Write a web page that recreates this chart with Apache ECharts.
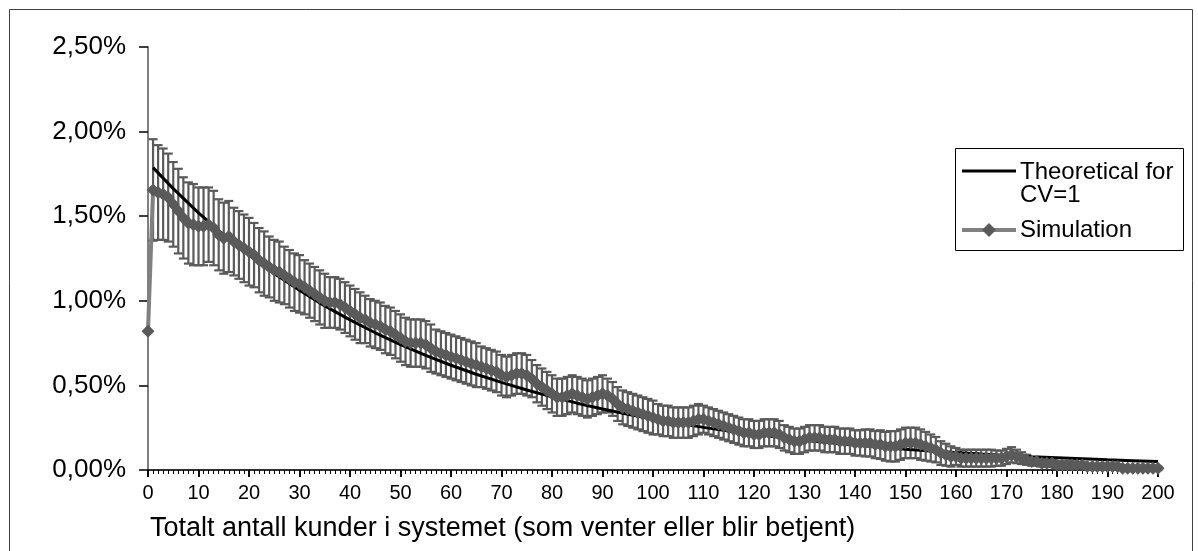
<!DOCTYPE html>
<html>
<head>
<meta charset="utf-8">
<script src="https://cdn.jsdelivr.net/npm/echarts@6/dist/echarts.min.js"></script>
<style>
html,body{margin:0;padding:0;background:#fff;}
#chart{width:1198px;height:551px;}
</style>
</head>
<body>
<div id="chart"></div>
<script>
// ---- data (values in percent) ----
const xTickLabels = [0,10,20,30,40,50,60,70,80,90,100,110,120,130,140,150,160,170,180,190,200];
const yTickLabels = ['0,00%','0,50%','1,00%','1,50%','2,00%','2,50%'];

const theoX = [1,5,10,15,20,25,30,35,40,45,50,55,60,65,70,75,80,85,90,95,100,
  105,110,115,120,125,130,135,140,145,150,155,160,165,170,175,180,185,190,195,200];
const theoY = [1.787,1.663,1.520,1.390,1.270,1.161,1.062,0.970,0.887,0.811,0.741,
  0.678,0.619,0.566,0.518,0.473,0.432,0.395,0.361,0.330,0.302,
  0.276,0.252,0.231,0.211,0.193,0.176,0.161,0.147,0.135,0.123,
  0.112,0.103,0.094,0.086,0.078,0.072,0.066,0.060,0.055,0.050];

// simulation mean, index = number of customers (0..200)
const simY = [0.82,
  1.655,1.64,1.63,1.61,1.57,1.53,1.49,1.46,1.45,1.44,
  1.44,1.45,1.43,1.39,1.37,1.38,1.35,1.33,1.31,1.29,
  1.27,1.24,1.22,1.20,1.18,1.17,1.15,1.13,1.11,1.10,
  1.08,1.06,1.04,1.02,1.00,0.99,0.99,0.98,0.96,0.94,
  0.92,0.90,0.89,0.87,0.86,0.85,0.83,0.82,0.80,0.78,
  0.76,0.75,0.75,0.75,0.74,0.72,0.70,0.69,0.68,0.67,
  0.66,0.65,0.64,0.63,0.62,0.61,0.60,0.59,0.58,0.56,
  0.55,0.56,0.57,0.57,0.56,0.54,0.51,0.49,0.47,0.45,
  0.43,0.43,0.44,0.45,0.44,0.43,0.42,0.43,0.44,0.45,
  0.44,0.42,0.39,0.37,0.36,0.35,0.34,0.33,0.32,0.31,
  0.30,0.29,0.29,0.28,0.28,0.28,0.28,0.29,0.30,0.30,
  0.29,0.28,0.27,0.26,0.25,0.24,0.23,0.22,0.22,0.21,
  0.21,0.22,0.22,0.22,0.21,0.19,0.18,0.17,0.17,0.18,
  0.19,0.19,0.19,0.18,0.18,0.18,0.17,0.17,0.17,0.16,
  0.16,0.16,0.16,0.15,0.15,0.14,0.14,0.14,0.15,0.16,
  0.16,0.16,0.15,0.14,0.13,0.12,0.10,0.09,0.08,0.08,
  0.07,0.07,0.07,0.07,0.07,0.07,0.07,0.07,0.07,0.08,
  0.09,0.08,0.07,0.06,0.05,0.05,0.04,0.04,0.04,0.03,
  0.03,0.03,0.03,0.03,0.03,0.02,0.02,0.02,0.02,0.02,
  0.02,0.02,0.01,0.01,0.01,0.01,0.01,0.01,0.01,0.01];

// simulation error (+/-)
const simErr = [0,
  0.30,0.28,0.27,0.26,0.25,0.25,0.24,0.24,0.24,0.23,
  0.23,0.22,0.22,0.21,0.21,0.21,0.20,0.20,0.20,0.20,
  0.19,0.19,0.19,0.18,0.18,0.18,0.17,0.17,0.17,0.17,
  0.16,0.16,0.16,0.16,0.16,0.15,0.15,0.15,0.15,0.15,
  0.15,0.15,0.14,0.14,0.14,0.14,0.14,0.14,0.14,0.14,
  0.14,0.14,0.14,0.14,0.14,0.14,0.13,0.13,0.13,0.13,
  0.13,0.13,0.13,0.13,0.13,0.12,0.12,0.12,0.12,0.12,
  0.12,0.12,0.12,0.12,0.12,0.11,0.11,0.11,0.11,0.11,
  0.11,0.11,0.11,0.11,0.11,0.11,0.11,0.11,0.11,0.11,
  0.10,0.10,0.10,0.10,0.10,0.10,0.10,0.10,0.10,0.10,
  0.09,0.09,0.09,0.09,0.09,0.09,0.09,0.09,0.09,0.08,
  0.08,0.08,0.08,0.08,0.08,0.08,0.08,0.08,0.08,0.08,
  0.08,0.08,0.08,0.08,0.08,0.075,0.075,0.075,0.075,0.075,
  0.075,0.075,0.075,0.075,0.075,0.075,0.075,0.075,0.075,0.075,
  0.075,0.08,0.08,0.08,0.085,0.085,0.09,0.09,0.09,0.09,
  0.09,0.09,0.09,0.085,0.08,0.075,0.07,0.065,0.06,0.05,
  0.05,0.05,0.05,0.05,0.05,0.05,0.05,0.045,0.045,0.045,
  0.045,0.04,0.035,0.03,0.025,0.02,0.02,0.02,0.02,0.02,
  0.02,0.02,0.02,0.015,0.015,0.015,0.015,0.01,0.01,0.01,
  0.01,0.01,0.01,0.01,0.01,0.01,0.01,0.01,0.01,0.01];

const xTitle = 'Totalt antall kunder i systemet (som venter eller blir betjent)';
const seriesNames = ['Theoretical for CV=1', 'Simulation'];

// ---- build ----
const FONT = '"Liberation Sans", Arial, Helvetica, sans-serif';
const theoData = theoX.map((x, i) => [x, theoY[i]]);
const simData = simY.map((v, i) => [i, v]);
const errData = simY.map((v, i) => [i, v - simErr[i], v + simErr[i]]);

const chart = echarts.init(document.getElementById('chart'), null, {renderer: 'canvas'});

const xBase = {type: 'value', min: 0, max: 200, gridIndex: 0, splitLine: {show: false}};
const yBase = {type: 'value', min: 0, max: 2.5, interval: 0.5, gridIndex: 0, splitLine: {show: false}};

chart.setOption({
  backgroundColor: '#ffffff',
  animation: false,
  textStyle: {fontFamily: FONT, color: '#000'},
  grid: {left: 148, top: 47, width: 1010, height: 423, containLabel: false},
  xAxis: [
    Object.assign({}, xBase, {
      interval: 10,
      axisLine: {show: true, onZero: false, lineStyle: {color: '#303030', width: 2}},
      axisTick: {show: true, length: 7, lineStyle: {color: '#000', width: 1.5}},
      axisLabel: {show: true, fontSize: 20, margin: 13, color: '#000', fontFamily: FONT,
        formatter: v => (xTickLabels.indexOf(v) >= 0 ? String(v) : '')},
      name: xTitle,
      nameLocation: 'start',
      nameGap: -2,
      nameTextStyle: {fontSize: 27, color: '#000', fontFamily: FONT, align: 'left',
        verticalAlign: 'top', padding: [45, 0, 0, 0]}
    }),
    Object.assign({}, xBase, {
      interval: 1,
      axisLine: {show: false},
      axisTick: {show: true, inside: true, length: 4, lineStyle: {color: '#000', width: 1}},
      axisLabel: {show: false}
    }),
    Object.assign({}, xBase, {
      interval: 10,
      axisLine: {show: false},
      axisTick: {show: true, inside: true, length: 7, lineStyle: {color: '#000', width: 1.5}},
      axisLabel: {show: false}
    })
  ],
  yAxis: [
    Object.assign({}, yBase, {
      axisLine: {show: true, lineStyle: {color: '#808080', width: 2}},
      axisTick: {show: true, length: 6, lineStyle: {color: '#000', width: 1.5}},
      axisLabel: {show: true, fontSize: 26, margin: 22, color: '#000', fontFamily: FONT,
        formatter: v => yTickLabels[Math.round(v / 0.5)]}
    }),
    Object.assign({}, yBase, {
      axisLine: {show: false},
      axisTick: {show: true, inside: true, length: 9, lineStyle: {color: '#000', width: 1.5}},
      axisLabel: {show: false}
    })
  ],
  series: [
    {
      name: seriesNames[1] + ' error',
      type: 'custom',
      xAxisIndex: 0, yAxisIndex: 0,
      z: 1,
      silent: true,
      data: errData,
      encode: {x: 0, y: [1, 2]},
      renderItem: function (params, api) {
        const x = api.value(0);
        const lo = api.value(1), hi = api.value(2);
        if (hi - lo <= 0) return null;
        const pHi = api.coord([x, hi]);
        const pLo = api.coord([x, lo]);
        const hw = 4.5;
        const st = {stroke: '#5a5a5a', lineWidth: 2.2};
        return {type: 'group', children: [
          {type: 'line', shape: {x1: pHi[0], y1: pHi[1], x2: pLo[0], y2: pLo[1]}, style: st},
          {type: 'line', shape: {x1: pHi[0] - hw, y1: pHi[1], x2: pHi[0] + hw, y2: pHi[1]}, style: st},
          {type: 'line', shape: {x1: pLo[0] - hw, y1: pLo[1], x2: pLo[0] + hw, y2: pLo[1]}, style: st}
        ]};
      }
    },
    {
      name: seriesNames[0],
      type: 'line',
      xAxisIndex: 0, yAxisIndex: 0,
      z: 2,
      data: theoData,
      showSymbol: false,
      symbol: 'none',
      lineStyle: {color: '#000', width: 3},
      itemStyle: {color: '#000'}
    },
    {
      name: seriesNames[1],
      type: 'line',
      xAxisIndex: 0, yAxisIndex: 0,
      z: 3,
      data: simData,
      symbol: 'diamond',
      symbolSize: 13,
      showAllSymbol: true,
      lineStyle: {color: '#808080', width: 4},
      itemStyle: {color: '#5a5a5a', borderWidth: 0}
    }
  ],
  graphic: [
    {type: 'rect', left: 7, top: 7, z: -10, silent: true,
      shape: {width: 1183, height: 600},
      style: {fill: 'none', stroke: '#404040', lineWidth: 1}},
    // legend box
    {type: 'rect', left: 955, top: 148, z: 10, silent: true,
      shape: {width: 228, height: 102},
      style: {fill: '#fff', stroke: '#000', lineWidth: 1}},
    {type: 'line', z: 11, silent: true,
      shape: {x1: 962, y1: 171, x2: 1016, y2: 171},
      style: {stroke: '#000', lineWidth: 3}},
    {type: 'text', z: 11, silent: true, left: 1020, top: 160,
      style: {text: 'Theoretical for\nCV=1', fontSize: 24, lineHeight: 23, fill: '#000', font: '24px ' + FONT}},
    {type: 'line', z: 11, silent: true,
      shape: {x1: 962, y1: 230, x2: 1016, y2: 230},
      style: {stroke: '#808080', lineWidth: 4}},
    {type: 'polygon', z: 12, silent: true,
      shape: {points: [[989, 223], [996, 230], [989, 237], [982, 230]]},
      style: {fill: '#5a5a5a'}},
    {type: 'text', z: 11, silent: true, left: 1020, top: 218,
      style: {text: 'Simulation', fontSize: 24, lineHeight: 24, fill: '#000', font: '24px ' + FONT}}
  ]
});
</script>
</body>
</html>
